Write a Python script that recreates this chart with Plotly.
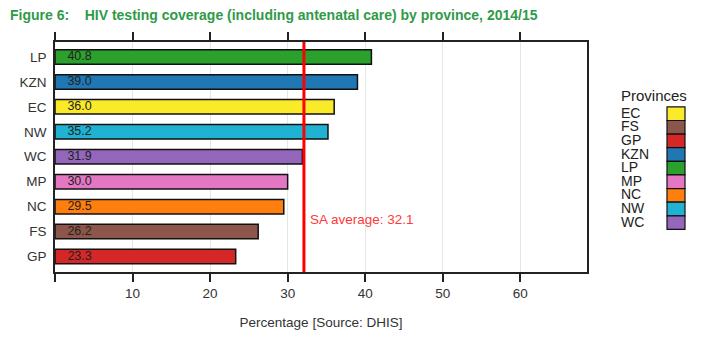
import plotly.graph_objects as go

# Data (bottom to top as drawn)
provinces = ["GP", "FS", "NC", "MP", "WC", "NW", "EC", "KZN", "LP"]
coverage = [23.3, 26.2, 29.5, 30.0, 31.9, 35.2, 36.0, 39.0, 40.8]
colors = ["#d62728", "#8c564b", "#ff7f0e", "#e377c2", "#9467bd", "#1fb2d2", "#f9ea2a", "#1f77b4", "#2ca02c"]
sa_average = 32.1
x_ticks = [0, 10, 20, 30, 40, 50, 60]
x_tick_labels = ["", "10", "20", "30", "40", "50", "60"]
legend_order = ["EC", "FS", "GP", "KZN", "LP", "MP", "NC", "NW", "WC"]

color_of = dict(zip(provinces, colors))
FONT = "Liberation Sans, Arial, sans-serif"

fig = go.Figure()
fig.add_trace(go.Bar(
    x=coverage, y=provinces, orientation="h",
    marker=dict(color=colors, line=dict(color="#111", width=1.5)),
    width=0.58, showlegend=False, hoverinfo="skip",
))
fig.add_trace(go.Scatter(
    x=[1.6] * len(provinces), y=provinces, mode="text",
    text=[f"{v:.1f}" for v in coverage], textposition="middle right",
    textfont=dict(family=FONT, size=12.5, color="#222"),
    showlegend=False, hoverinfo="skip",
))

fig.add_shape(type="line", xref="x", yref="paper", x0=sa_average, x1=sa_average,
              y0=0, y1=1, line=dict(color="#ff0000", width=3))
fig.add_annotation(x=sa_average + 0.5, y=1.5, xref="x", yref="y",
                   text=f"SA average: {sa_average}", showarrow=False,
                   xanchor="left", yanchor="middle",
                   font=dict(family=FONT, size=13.5, color="#ff3a3a"))

# Manual legend (text left, swatch right)
plot_left, plot_right, plot_top, plot_bottom = 55, 587, 42, 275
pw = plot_right - plot_left
ph = plot_bottom - plot_top
def px_x(p):
    return (p - plot_left) / pw
def px_y(p):
    return (plot_bottom - p) / ph

fig.add_annotation(x=px_x(619), y=px_y(96), xref="paper", yref="paper",
                   text="Provinces", showarrow=False, xanchor="left", yanchor="middle",
                   font=dict(family=FONT, size=15, color="#222"))
row_h = 13.8
y_start = 107.7
for i, p in enumerate(legend_order):
    top = y_start + i * row_h
    fig.add_shape(type="rect", xref="paper", yref="paper",
                  x0=px_x(667), x1=px_x(685), y0=px_y(top), y1=px_y(top + row_h),
                  fillcolor=color_of[p], line=dict(color="#111", width=1.2))
    fig.add_annotation(x=px_x(619), y=px_y(top + row_h / 2 - 1), xref="paper", yref="paper",
                       text=p, showarrow=False, xanchor="left", yanchor="middle",
                       font=dict(family=FONT, size=14, color="#222"))

fig.update_layout(
    width=720, height=340,
    margin=dict(l=plot_left, r=720 - plot_right, t=plot_top, b=340 - plot_bottom),
    paper_bgcolor="white", plot_bgcolor="white",
    title=dict(
        text="Figure 6:    HIV testing coverage (including antenatal care) by province, 2014/15",
        x=10 / 720, xref="container", xanchor="left",
        y=1 - 15 / 340, yref="container", yanchor="middle",
        font=dict(family="Liberation Sans, Arial, sans-serif",
                  size=14, color="#2f9a48", weight="bold"),
    ),
    xaxis=dict(
        range=[0, 68.6], tickvals=x_ticks, ticktext=x_tick_labels,
        showgrid=True, gridcolor="#e6e6e6", gridwidth=1,
        showline=True, linecolor="#222", linewidth=1.5, mirror="ticks",
        ticks="outside", ticklen=8, tickwidth=1.5, tickcolor="#222",
        tickfont=dict(family=FONT, size=13.5, color="#333"),
        title=dict(text="Percentage [Source: DHIS]", standoff=18,
                   font=dict(family=FONT, size=13.5, color="#333")),
        zeroline=False, fixedrange=True,
    ),
    yaxis=dict(
        type="category", categoryorder="array", categoryarray=provinces,
        range=[-0.62, 8.6],
        showline=True, linecolor="#222", linewidth=1.5, mirror=True,
        ticks="", showgrid=False,
        tickfont=dict(family=FONT, size=13.5, color="#333"),
        ticklabelstandoff=4, fixedrange=True,
    ),
    bargap=0.4,
)

fig.write_html("out.html")
